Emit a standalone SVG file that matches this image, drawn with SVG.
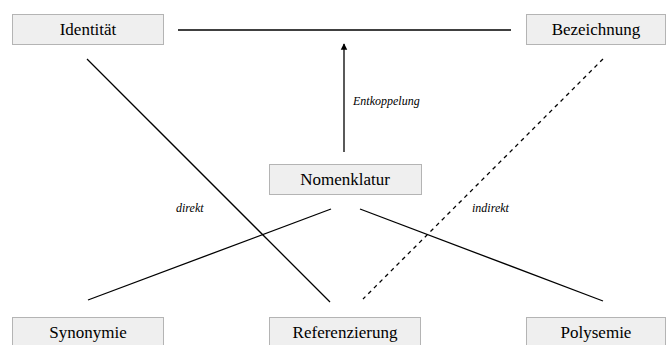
<svg xmlns="http://www.w3.org/2000/svg" width="667" height="345" viewBox="0 0 667 345">
  <style>
    text { font-family: Liberation Serif, DejaVu Serif, Times New Roman, serif; }
    .box { fill: #efefef; stroke: #b4b4b4; stroke-width: 1; }
    .lbl { font-size: 17px; fill: #000; text-anchor: middle; }
    .note { font-size: 12px; font-style: italic; fill: #000; }
    .edge { stroke: #000; stroke-width: 1.3; fill: none; }
    .dash { stroke-dasharray: 4 4; }
  </style>
  <defs>
    <marker id="arrow" viewBox="0 0 10 10" refX="9" refY="5" markerWidth="5" markerHeight="6" orient="auto">
      <path d="M0,0 L10,5 L0,10 z" fill="#000"/>
    </marker>
  </defs>

  <g id="connectors">
    <line class="edge" x1="178" y1="30" x2="511" y2="30"/>
    <line class="edge" x1="344" y1="152" x2="344" y2="44" marker-end="url(#arrow)"/>
    <line class="edge" x1="87" y1="59" x2="330" y2="302"/>
    <line class="edge dash" x1="603" y1="59" x2="363" y2="299"/>
    <line class="edge" x1="331" y1="209" x2="88" y2="300"/>
    <line class="edge" x1="360" y1="209" x2="603" y2="301"/>
    <text class="note" x="353" y="105">Entkoppelung</text>
    <text class="note" x="176" y="212">direkt</text>
    <text class="note" x="472" y="212">indirekt</text>
  </g>

  <g id="identitaet">
    <rect class="box" x="12.5" y="14.5" width="151" height="30"/>
    <text class="lbl" x="88" y="35">Identität</text>
  </g>
  <g id="bezeichnung">
    <rect class="box" x="526.5" y="14.5" width="139" height="30"/>
    <text class="lbl" x="596" y="35">Bezeichnung</text>
  </g>
  <g id="nomenklatur">
    <rect class="box" x="269.5" y="164.5" width="152" height="30"/>
    <text class="lbl" x="345" y="185">Nomenklatur</text>
  </g>
  <g id="synonymie">
    <rect class="box" x="12.5" y="317.5" width="151" height="30"/>
    <text class="lbl" x="88" y="338">Synonymie</text>
  </g>
  <g id="referenzierung">
    <rect class="box" x="269.5" y="317.5" width="151" height="30"/>
    <text class="lbl" x="345" y="338">Referenzierung</text>
  </g>
  <g id="polysemie">
    <rect class="box" x="526.5" y="317.5" width="139" height="30"/>
    <text class="lbl" x="596" y="338">Polysemie</text>
  </g>
</svg>
